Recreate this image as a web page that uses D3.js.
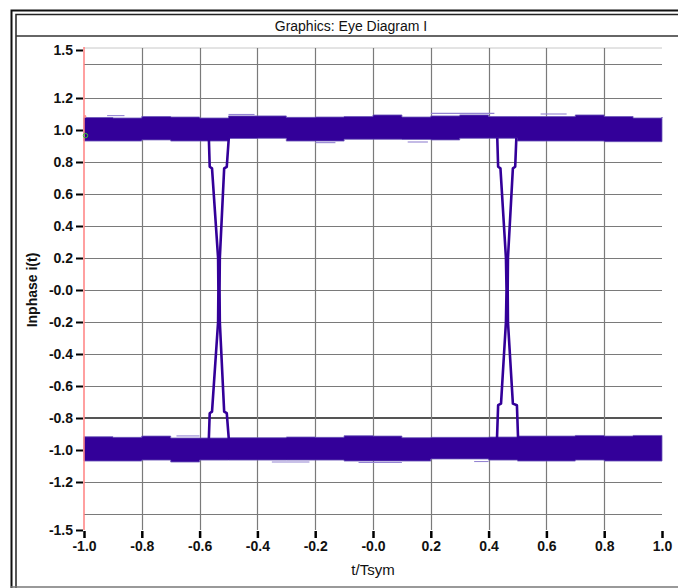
<!DOCTYPE html>
<html>
<head>
<meta charset="utf-8">
<script src="https://cdn.jsdelivr.net/npm/d3@7"></script>
<style>
  html, body { margin: 0; padding: 0; background: #fff; }
  svg { display: block; }
  .tick text { font-family: "Liberation Sans", Arial, sans-serif; font-weight: bold; font-size: 14px; fill: #111; }
</style>
</head>
<body>
<div id="chart"></div>
<script>
// ---- data ----
const xTicks = [-1.0, -0.8, -0.6, -0.4, -0.2, 0.0, 0.2, 0.4, 0.6, 0.8, 1.0];
const xTickLabels = ["-1.0", "-0.8", "-0.6", "-0.4", "-0.2", "-0.0", "0.2", "0.4", "0.6", "0.8", "1.0"];
const yTicks = [1.5, 1.2, 1.0, 0.8, 0.6, 0.4, 0.2, 0.0, -0.2, -0.4, -0.6, -0.8, -1.0, -1.2, -1.5];
const yTickLabels = ["1.5", "1.2", "1.0", "0.8", "0.6", "0.4", "0.2", "-0.0", "-0.2", "-0.4", "-0.6", "-0.8", "-1.0", "-1.2", "-1.5"];
const yGrid = [1.41, 1.2, 0.8, 0.6, 0.4, 0.2, 0.0, -0.2, -0.4, -0.6, -1.2, -1.4];

// band samples (t/Tsym every 0.1)
const sampleT = [-1.0, -0.9, -0.8, -0.7, -0.6, -0.5, -0.4, -0.3, -0.2, -0.1, 0.0, 0.1, 0.2, 0.3, 0.4, 0.5, 0.6, 0.7, 0.8, 0.9, 1.0];
const upperTop = [1.078, 1.075, 1.084, 1.081, 1.075, 1.088, 1.088, 1.079, 1.081, 1.084, 1.094, 1.081, 1.088, 1.094, 1.084, 1.084, 1.084, 1.094, 1.084, 1.075, 1.081];
const upperBottom = [0.931, 0.931, 0.938, 0.931, 0.931, 0.947, 0.948, 0.931, 0.931, 0.942, 0.942, 0.941, 0.938, 0.948, 0.948, 0.931, 0.931, 0.931, 0.927, 0.927, 0.938];
const lowerTop = [-0.917, -0.921, -0.913, -0.925, -0.925, -0.923, -0.923, -0.919, -0.921, -0.911, -0.913, -0.923, -0.921, -0.921, -0.919, -0.913, -0.913, -0.909, -0.913, -0.909, -0.913];
const lowerBottom = [-1.069, -1.069, -1.063, -1.075, -1.063, -1.063, -1.063, -1.063, -1.063, -1.069, -1.069, -1.069, -1.056, -1.056, -1.063, -1.069, -1.069, -1.063, -1.069, -1.069, -1.063];

// stray traces just outside the bands: [t start, t end, level]
const strayTraces = [
  [-0.50, -0.41, 1.097], [0.20, 0.42, 1.104], [0.58, 0.67, 1.100], [-0.92, -0.86, 1.090],
  [-0.20, -0.13, 0.921], [0.12, 0.19, 0.925],
  [-0.68, -0.60, -0.912], [-0.35, -0.22, -1.075], [-0.05, 0.10, -1.078], [0.35, 0.40, -1.072]
];

// transition traces (t/Tsym, level)
const cross1T = [[-0.568, -0.565, -0.557, -0.536, -0.535, -0.536, -0.557, -0.565, -0.568],
                 [-0.499, -0.506, -0.515, -0.530, -0.531, -0.530, -0.515, -0.506, -0.499]];
const cross2T = [[0.430, 0.433, 0.441, 0.460, 0.462, 0.460, 0.443, 0.433, 0.429],
                 [0.496, 0.492, 0.484, 0.467, 0.466, 0.467, 0.484, 0.498, 0.502]];
const cross1V = [0.95, 0.77, 0.76, 0.2, 0.0, -0.2, -0.76, -0.77, -0.93];
const cross2V = [0.95, 0.77, 0.76, 0.2, 0.0, -0.2, -0.71, -0.72, -0.93];

const W = 678, H = 588;
const traceColor = "#330099";
const font = '"Liberation Sans", Arial, sans-serif';

const svg = d3.select("#chart").append("svg")
  .attr("width", W)
  .attr("height", H);

// window frame
svg.append("rect").attr("x", 0).attr("y", 0).attr("width", W).attr("height", H).attr("fill", "#fff");
svg.append("path").attr("d", `M11.5,${H} V10.5 H${W}`).attr("fill", "none").attr("stroke", "#111").attr("stroke-width", 2);
svg.append("path").attr("d", `M16,${H} V14.5 H${W}`).attr("fill", "none").attr("stroke", "#222").attr("stroke-width", 1.5);
svg.append("line").attr("x1", 16).attr("x2", W).attr("y1", 36).attr("y2", 36).attr("stroke", "#333").attr("stroke-width", 1.5);
svg.append("line").attr("x1", 11).attr("x2", W).attr("y1", 587).attr("y2", 587).attr("stroke", "#777").attr("stroke-width", 1.5);

svg.append("text")
  .attr("x", 351).attr("y", 30.5)
  .attr("text-anchor", "middle")
  .style("font-family", font).style("font-size", "14px").style("fill", "#111")
  .text("Graphics: Eye Diagram I");

// scales
const x = d3.scaleLinear().domain([-1, 1]).range([84, 662]);
const y = d3.scaleLinear().domain([-1.5, 1.5]).range([530, 50]);

// grid
svg.append("line").attr("x1", x(-1)).attr("x2", x(1)).attr("y1", y(1.5) - 2).attr("y2", y(1.5) - 2)
  .attr("stroke", "#c8c8c8").attr("stroke-width", 1);

svg.append("g").selectAll("line").data(yGrid).join("line")
  .attr("x1", x(-1)).attr("x2", x(1))
  .attr("y1", d => Math.round(y(d)) + 0.5).attr("y2", d => Math.round(y(d)) + 0.5)
  .attr("stroke", "#7a7a7a").attr("stroke-width", 1.2);
// the -0.8 line is drawn heavier
svg.append("line").attr("x1", x(-1)).attr("x2", x(1)).attr("y1", y(-0.8)).attr("y2", y(-0.8))
  .attr("stroke", "#555").attr("stroke-width", 2);

svg.append("g").selectAll("line").data(xTicks.slice(1, -1)).join("line")
  .attr("x1", d => Math.round(x(d)) + 0.5).attr("x2", d => Math.round(x(d)) + 0.5)
  .attr("y1", y(1.5) - 2).attr("y2", y(-1.5))
  .attr("stroke", "#7a7a7a").attr("stroke-width", 1.2);

// bands
const band = d3.area()
  .x((d, i) => x(sampleT[i]))
  .curve(d3.curveStepAfter);

const bandData = [[upperTop, upperBottom], [lowerTop, lowerBottom]];
bandData.forEach(([top, bottom]) => {
  svg.append("path")
    .datum(sampleT)
    .attr("d", band.y0((d, i) => y(bottom[i])).y1((d, i) => y(top[i])))
    .attr("fill", traceColor)
    .attr("stroke", "#6b55b8")
    .attr("stroke-width", 0.8);
});

// stray traces
svg.append("g").selectAll("line").data(strayTraces).join("line")
  .attr("x1", d => x(d[0])).attr("x2", d => x(d[1]))
  .attr("y1", d => y(d[2])).attr("y2", d => y(d[2]))
  .attr("stroke", "#9484d2").attr("stroke-width", 1.1);

// transitions
const line = d3.line().x(d => x(d[0])).y(d => y(d[1]));
[[cross1T, cross1V], [cross2T, cross2V]].forEach(([ts, vs]) => {
  ts.forEach(t => {
    svg.append("path")
      .attr("d", line(t.map((tv, i) => [tv, vs[i]])))
      .attr("fill", "none")
      .attr("stroke", traceColor)
      .attr("stroke-width", 2.6)
      .attr("stroke-linejoin", "round");
  });
});

// red y-axis line
svg.append("line").attr("x1", x(-1)).attr("x2", x(-1)).attr("y1", y(1.5) - 3).attr("y2", y(-1.5))
  .attr("stroke", "#ff8080").attr("stroke-width", 1.5);

// small markers at the left edge
svg.append("circle").attr("cx", x(-1) + 1.5).attr("cy", y(0.965)).attr("r", 2.2)
  .attr("fill", "none").attr("stroke", "#33cc33").attr("stroke-width", 1);
svg.append("circle").attr("cx", x(-1) + 1).attr("cy", y(1.085)).attr("r", 1.3)
  .attr("fill", "#ff9090");

// axes
const yAxis = d3.axisLeft(y).tickValues(yTicks)
  .tickFormat((d, i) => yTickLabels[i]).tickSize(7).tickPadding(3);
const gy = svg.append("g").attr("transform", "translate(83,0)").call(yAxis);
gy.select(".domain").remove();
gy.selectAll(".tick line").attr("stroke", "#000").attr("stroke-width", 2);

const xAxis = d3.axisBottom(x).tickValues(xTicks)
  .tickFormat((d, i) => xTickLabels[i]).tickSize(7).tickPadding(3);
const gx = svg.append("g").attr("transform", "translate(0,531)").call(xAxis);
gx.select(".domain").remove();
gx.selectAll(".tick line").attr("stroke", "#000").attr("stroke-width", 2.5);

// axis titles
svg.append("text")
  .attr("x", x(0)).attr("y", 575)
  .attr("text-anchor", "middle")
  .style("font-family", font).style("font-size", "15px").style("fill", "#111")
  .text("t/Tsym");

svg.append("text")
  .attr("transform", `translate(37,${y(0)}) rotate(-90)`)
  .attr("text-anchor", "middle")
  .style("font-family", font).style("font-size", "14px").style("font-weight", "bold").style("fill", "#111")
  .text("Inphase i(t)");
</script>
</body>
</html>
